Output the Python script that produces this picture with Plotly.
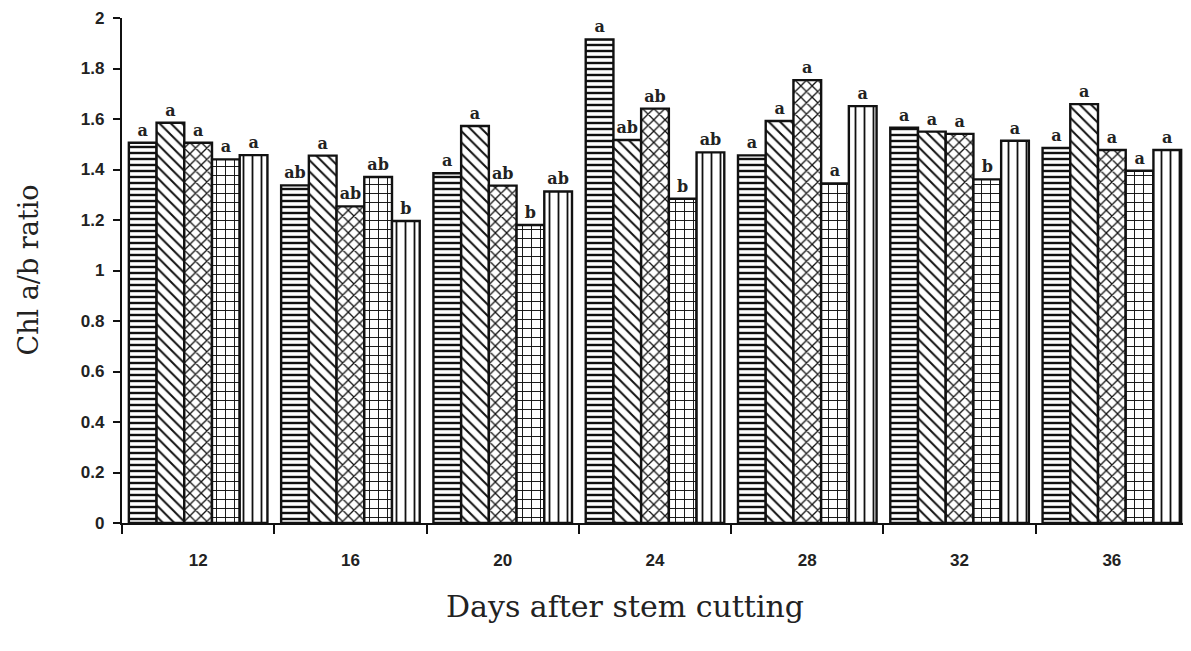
import plotly.graph_objects as go

days = ["12", "16", "20", "24", "28", "32", "36"]

t1 = [1.506, 1.337, 1.385, 1.915, 1.456, 1.566, 1.485]
t2 = [1.585, 1.455, 1.572, 1.517, 1.592, 1.550, 1.659]
t3 = [1.506, 1.254, 1.336, 1.641, 1.754, 1.541, 1.477]
t4 = [1.440, 1.370, 1.180, 1.284, 1.345, 1.361, 1.395]
t5 = [1.457, 1.196, 1.313, 1.468, 1.651, 1.514, 1.477]

l1 = ["a", "ab", "a", "a", "a", "a", "a"]
l2 = ["a", "a", "a", "ab", "a", "a", "a"]
l3 = ["a", "ab", "ab", "ab", "a", "a", "a"]
l4 = ["a", "ab", "b", "b", "a", "b", "a"]
l5 = ["a", "b", "ab", "ab", "a", "a", "a"]

series = [
    (t1, l1, "-", 6, 0.4),
    (t2, l2, "\\", 8, 0.25),
    (t3, l3, "x", 8, 0.3),
    (t4, l4, "+", 9, 0.2),
    (t5, l5, "|", 9, 0.2),
]

fig = go.Figure()
for vals, labs, shape, size, sol in series:
    fig.add_trace(go.Bar(
        x=days, y=vals, text=labs, textposition="outside",
        textfont=dict(family="DejaVu Serif", size=16, color="#222", weight="bold"),
        cliponaxis=False,
        marker=dict(color="white",
                    line=dict(color="#111", width=2.4),
                    pattern=dict(shape=shape, size=size, solidity=sol,
                                 fgcolor="#111", bgcolor="white", fillmode="replace")),
        showlegend=False,
    ))

# page body has an 8px margin, so the figure is sized/offset to compensate
fig.update_layout(
    width=1183, height=643,
    margin=dict(l=114, r=3, t=10, b=128),
    paper_bgcolor="white", plot_bgcolor="white",
    barmode="group", bargap=0.09, bargroupgap=0,
    font=dict(family="Liberation Sans", color="black"),
)
fig.update_xaxes(
    type="category", range=[-0.5, 6.5], automargin=False,
    showline=True, linewidth=2.2, linecolor="#111",
    ticks="outside", tickson="boundaries", ticklen=9, tickwidth=2, tickcolor="#111",
    tickfont=dict(family="Liberation Sans", size=17, color="#222", weight="bold"),
    ticklabelstandoff=20,
    showgrid=False, zeroline=False,
)
fig.update_yaxes(
    range=[0, 2], dtick=0.2, tick0=0, automargin=False,
    showline=True, linewidth=2.2, linecolor="#111",
    ticks="outside", ticklen=7, tickwidth=2, tickcolor="#111",
    tickfont=dict(family="Liberation Sans", size=17, color="#222", weight="bold"),
    ticklabelstandoff=5,
    showgrid=False, zeroline=False,
)
fig.add_annotation(text="Days after stem cutting", xref="paper", yref="paper",
                   x=0.5, y=-0.165, yanchor="middle", xanchor="center", xshift=-30,
                   showarrow=False,
                   font=dict(family="DejaVu Serif", size=30, color="#222"))
fig.add_annotation(text="Chl a/b ratio", xref="paper", yref="paper",
                   x=0, xshift=-94, xanchor="center", y=0.5, yanchor="middle",
                   textangle=-90, showarrow=False,
                   font=dict(family="DejaVu Serif", size=27, color="#222"))

fig.write_html("out.html")
